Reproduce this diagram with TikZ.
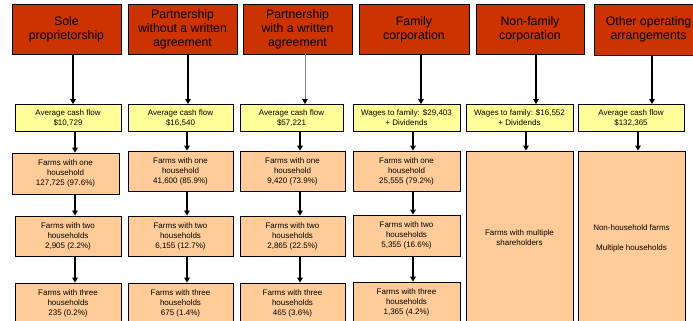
\documentclass[tikz,border=0pt]{standalone}
\usepackage{fontspec}
\setmainfont{Liberation Sans}
\usetikzlibrary{arrows.meta}
\definecolor{FarmRed}{HTML}{CC3300}
\definecolor{FarmYellow}{HTML}{FFFF99}
\definecolor{FarmPeach}{HTML}{FFCC99}

\begin{document}
\begin{tikzpicture}[
  x=1pt,y=-1pt,
  every node/.style={align=center,inner sep=1pt},
  orgbox/.style={draw=black,line width=0.8pt,fill=FarmRed,minimum width=109pt,minimum height=50pt,font=\fontsize{12.3}{14}\selectfont},
  cashbox/.style={draw=black,line width=0.8pt,fill=FarmYellow,minimum width=106pt,minimum height=27pt,font=\fontsize{8}{10}\selectfont},
  farmbox/.style={draw=black,line width=0.8pt,fill=FarmPeach,minimum width=106pt,minimum height=40pt,font=\fontsize{8}{10}\selectfont},
  arr/.style={-{Triangle[width=5.5pt,length=5pt]},line width=1.3pt},
  faint/.style={-{Triangle[width=5.5pt,length=5pt,color=black]},line width=1pt,draw=gray}
]
  \useasboundingbox (0,0) rectangle (693,321);
  \clip (0,0) rectangle (693,321);
  \fill[white] (0,0) rectangle (693,321);

  % business arrangements
  \node[orgbox] (sole) at (66.5,29) {Sole\\proprietorship};
  \node[orgbox] (nowritten) at (182.5,29) {Partnership\\without a written\\agreement};
  \node[orgbox] (written) at (297.5,29) {Partnership\\with a written\\agreement};
  \node[orgbox,minimum width=110pt] (famcorp) at (414,29) {Family\\corporation};
  \node[orgbox,minimum width=108pt] (nonfam) at (530,29) {Non-family\\corporation};
  \node[orgbox,minimum height=51pt] (other) at (648.5,29.5) {Other operating\\arrangements};

  % income
  \node[cashbox] (cash1) at (68,118) {Average cash flow\\\$10,729};
  \node[cashbox,minimum width=105pt] (cash2) at (180.5,118) {Average cash flow\\\$16,540};
  \node[cashbox,minimum width=103pt] (cash3) at (291.5,118) {Average cash flow\\\$57,221};
  \node[cashbox,minimum width=107pt] (cash4) at (406.5,118) {Wages to family: \$29,403\\+ Dividends};
  \node[cashbox,minimum width=107pt] (cash5) at (519.5,118) {Wages to family: \$16,552\\+ Dividends};
  \node[cashbox] (cash6) at (631,118) {Average cash flow\\\$132,365};

  % households per farm
  \node[farmbox,minimum width=107pt,minimum height=41pt] (one1) at (65.5,173.5) {Farms with one\\household\\127,725 (97.6\%)};
  \node[farmbox,minimum width=105pt] (one2) at (180.5,171) {Farms with one\\household\\41,600 (85.9\%)};
  \node[farmbox,minimum width=105pt] (one3) at (292.5,171) {Farms with one\\household\\9,420 (73.9\%)};
  \node[farmbox,minimum width=107pt] (one4) at (406.5,171) {Farms with one\\household\\25,555 (79.2\%)};

  \node[farmbox] (two1) at (68,236) {Farms with two\\households\\2,905 (2.2\%)};
  \node[farmbox,minimum width=105pt] (two2) at (180.5,236) {Farms with two\\households\\6,155 (12.7\%)};
  \node[farmbox,minimum width=105pt] (two3) at (292.5,236) {Farms with two\\households\\2,865 (22.5\%)};
  \node[farmbox,minimum width=107pt,minimum height=41pt] (two4) at (406.5,235.5) {Farms with two\\households\\5,355 (16.6\%)};

  \node[farmbox] (three1) at (68,303) {Farms with three\\households\\235 (0.2\%)};
  \node[farmbox,minimum width=105pt] (three2) at (180.5,303) {Farms with three\\households\\675 (1.4\%)};
  \node[farmbox,minimum width=105pt] (three3) at (292.5,303) {Farms with three\\households\\465 (3.6\%)};
  \node[farmbox,minimum width=107pt,minimum height=41pt] (three4) at (406.5,302.5) {Farms with three\\households\\1,365 (4.2\%)};

  \node[farmbox,minimum width=107pt,minimum height=174pt] (multi) at (519.5,238) {Farms with multiple\\shareholders};
  \node[farmbox,minimum width=107pt,minimum height=174pt] (nonhh) at (631.5,238) {Non-household farms\\[10pt]Multiple households};

  % arrow columns
  \coordinate (r1) at (73,0);  \coordinate (d1) at (75,0);
  \coordinate (r2) at (188,0); \coordinate (d2) at (187,0);
  \coordinate (r3) at (305,0); \coordinate (d3) at (300,0);
  \coordinate (r4) at (421,0); \coordinate (d4) at (413,0);
  \coordinate (r5) at (536,0); \coordinate (d5) at (526,0);
  \coordinate (r6) at (652,0); \coordinate (d6) at (638,0);

  \draw[arr] (sole.south -| r1) -- (cash1.north -| r1);
  \draw[arr] (nowritten.south -| r2) -- (cash2.north -| r2);
  \draw[faint] (written.south -| r3) -- (cash3.north -| r3);
  \draw[arr] (famcorp.south -| r4) -- (cash4.north -| r4);
  \draw[arr] (nonfam.south -| r5) -- (cash5.north -| r5);
  \draw[arr] (other.south -| r6) -- (cash6.north -| r6);

  \draw[arr] (cash1.south -| d1) -- (one1.north -| d1);
  \draw[arr] (one1.south -| d1) -- (two1.north -| d1);
  \draw[arr] (two1.south -| d1) -- (three1.north -| d1);
  \draw[arr] (cash2.south -| d2) -- (one2.north -| d2);
  \draw[arr] (one2.south -| d2) -- (two2.north -| d2);
  \draw[arr] (two2.south -| d2) -- (three2.north -| d2);
  \draw[arr] (cash3.south -| d3) -- (one3.north -| d3);
  \draw[arr] (one3.south -| d3) -- (two3.north -| d3);
  \draw[arr] (two3.south -| d3) -- (three3.north -| d3);
  \draw[arr] (cash4.south -| d4) -- (one4.north -| d4);
  \draw[arr] (one4.south -| d4) -- (two4.north -| d4);
  \draw[arr] (two4.south -| d4) -- (three4.north -| d4);
  \draw[arr] (cash5.south -| d5) -- (multi.north -| d5);
  \draw[arr] (cash6.south -| d6) -- (nonhh.north -| d6);
\end{tikzpicture}
\end{document}
